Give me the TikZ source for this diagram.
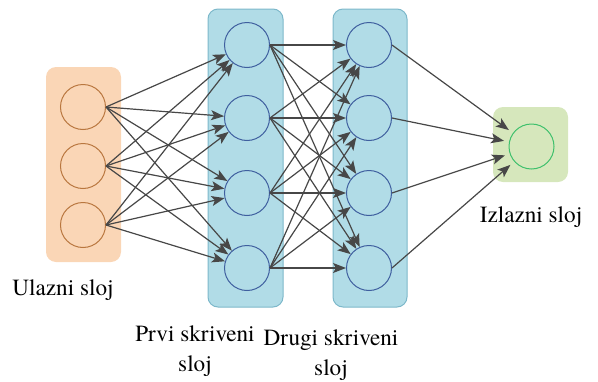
\documentclass[tikz,border=0pt]{standalone}
\usepackage{fontspec}
\setmainfont{texgyretermes-regular.otf}
\usetikzlibrary{arrows.meta}
\definecolor{ulazfill}{HTML}{FAD6B6}
\definecolor{ulazdraw}{HTML}{B9773F}
\definecolor{skrfill}{HTML}{B1DCE7}
\definecolor{skrrub}{HTML}{7DB8CA}
\definecolor{skrdraw}{HTML}{3F5F9F}
\definecolor{izfill}{HTML}{D6E7BC}
\definecolor{izdraw}{HTML}{3EC06C}
\definecolor{strelica}{HTML}{474747}
\begin{document}
\begin{tikzpicture}[x=1pt,y=-1pt]

      \tikzset{layer/.style={rounded corners=10pt, inner sep=0pt, minimum width=75pt},
               neuron/.style={draw, circle, inner sep=0pt, minimum size=45pt, line width=1pt},
               veza/.style={draw=strelica, line width=1.2pt, -{Stealth[length=13pt,width=10pt,inset=3pt]}},
               oznaka/.style={align=center, font=\fontsize{23.2}{30}\selectfont}}
      \useasboundingbox (0,0) rectangle (598,381);
%% Layers
      	\node[layer, fill=ulazfill, minimum height=195pt] (ulaz) at (83.5,164.5) {};
      	\node[layer, fill=skrfill, draw=skrrub, line width=1pt, minimum height=298pt] (prvi) at (245.5,158) {};
      	\node[layer, fill=skrfill, draw=skrrub, line width=1pt, minimum width=74pt, minimum height=298pt] (drugi) at (370,158) {};
      	\node[layer, fill=izfill, minimum height=75pt] (izlaz) at (530.5,144.5) {};
%% Vertices
      	\node[neuron, draw=ulazdraw] (x1) at (83,107) {};
      	\node[neuron, draw=ulazdraw] (x2) at (83,166) {};
      	\node[neuron, draw=ulazdraw] (x3) at (83,225) {};
      	\node[neuron, draw=skrdraw] (h1) at (247,45) {};
      	\node[neuron, draw=skrdraw] (h2) at (247,118) {};
      	\node[neuron, draw=skrdraw] (h3) at (247,193) {};
      	\node[neuron, draw=skrdraw] (h4) at (247,268) {};
      	\node[neuron, draw=skrdraw] (k1) at (369,45) {};
      	\node[neuron, draw=skrdraw] (k2) at (369,118) {};
      	\node[neuron, draw=skrdraw] (k3) at (369,193) {};
      	\node[neuron, draw=skrdraw] (k4) at (369,268) {};
      	\node[neuron, draw=izdraw] (y1) at (531.5,146.5) {};
%% Labels
      	\node[oznaka] (lulaz) at (63,290) {Ulazni sloj};
      	\node[oznaka] (lprvi) at (195,351) {Prvi skriveni\\sloj};
      	\node[oznaka] (ldrugi) at (331,355.5) {Drugi skriveni\\sloj};
      	\node[oznaka] (lizlaz) at (531,217) {Izlazni sloj};
%Edges
		\path (x1.east) edge[veza] (h1);
		\path (x1.east) edge[veza] (h2);
		\path (x1.east) edge[veza] (h3);
		\path (x1.east) edge[veza] (h4);
		\path (x2.east) edge[veza] (h1);
		\path (x2.east) edge[veza] (h2);
		\path (x2.east) edge[veza] (h3);
		\path (x2.east) edge[veza] (h4);
		\path (x3.east) edge[veza] (h1);
		\path (x3.east) edge[veza] (h2);
		\path (x3.east) edge[veza] (h3);
		\path (x3.east) edge[veza] (h4);
		\path (h1.east) edge[veza] (k1);
		\path (h1.east) edge[veza] (k2);
		\path (h1.east) edge[veza] (k3);
		\path (h1.east) edge[veza] (k4);
		\path (h2.east) edge[veza] (k1);
		\path (h2.east) edge[veza] (k2);
		\path (h2.east) edge[veza] (k3);
		\path (h2.east) edge[veza] (k4);
		\path (h3.east) edge[veza] (k1);
		\path (h3.east) edge[veza] (k2);
		\path (h3.east) edge[veza] (k3);
		\path (h3.east) edge[veza] (k4);
		\path (h4.east) edge[veza] (k1);
		\path (h4.east) edge[veza] (k2);
		\path (h4.east) edge[veza] (k3);
		\path (h4.east) edge[veza] (k4);
		\path (k1.east) edge[veza, shorten >=5pt] (y1);
		\path (k2.east) edge[veza, shorten >=5pt] (y1);
		\path (k3.east) edge[veza, shorten >=5pt] (y1);
		\path (k4.east) edge[veza, shorten >=5pt] (y1);

	\end{tikzpicture}
\end{document}
